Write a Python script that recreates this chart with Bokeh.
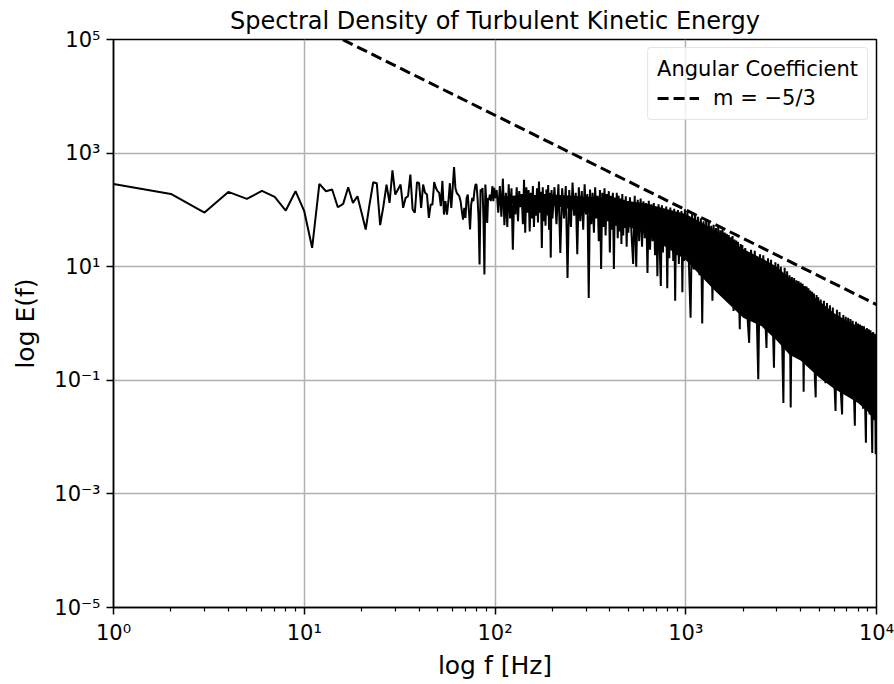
import numpy as np
from bokeh.plotting import figure
from bokeh.models import Range1d, FixedTicker, CustomJSTickFormatter, Legend, LegendItem
from bokeh.embed import file_html
from bokeh.resources import INLINE

# ---------------- data (log10 of E(f)) ----------------
freq_low = list(range(1, 101))
log_e_low = [2.457, 2.281, 1.954, 2.317, 2.194, 2.334, 2.229, 1.989, 2.329, 1.977,
             1.333, 2.457, 2.329, 2.358, 2.047, 2.106, 2.400, 2.123, 2.241, 1.947,
             1.655, 2.100, 2.487, 2.470, 1.731, 2.065, 2.446, 2.123, 2.698, 2.270,
             2.358, 2.446, 2.036, 2.212, 2.241, 2.622, 2.007, 1.950, 2.487, 2.470,
             2.036, 2.446, 2.300, 2.270, 1.860, 2.094, 2.094, 2.490, 2.387, 2.330,
             2.300, 2.065, 2.510, 1.918, 2.153, 1.918, 2.153, 2.470, 2.036, 2.387,
             2.756, 2.387, 2.300, 2.270, 2.240, 2.153, 1.977, 1.830, 2.036, 1.860,
             2.210, 2.270, 1.977, 1.655, 2.094, 2.210, 2.153, 2.330, 2.446, 2.446,
             2.210, 1.860, 1.040, 2.358, 2.330, 2.387, 1.860, 0.865, 2.446, 2.153,
             1.770, 2.210, 2.180, 2.270, 2.153, 2.270, 2.417, 2.153, 2.387, 2.210]

freq_a = list(range(102, 201, 2))
log_e_a = [2.35, 1.95, 2.42, 1.88, 2.55, 1.73, 2.30, 1.70, 2.45, 1.85,
           2.38, 1.30, 2.25, 1.92, 2.40, 1.80, 2.33, 2.05, 2.28, 1.75,
           2.53, 1.60, 2.40, 1.95, 2.35, 1.62, 2.30, 1.85, 2.42, 1.70,
           2.26, 1.90, 2.38, 1.78, 2.50, 1.95, 2.32, 1.33, 2.40, 1.80,
           2.28, 1.72, 2.36, 1.90, 2.44, 1.65, 2.30, 1.16, 2.35, 1.85]

freq_b = list(range(205, 501, 5))
log_e_b = [2.40, 1.75, 2.45, 1.24, 2.38, 1.85, 2.42, 0.80, 2.35, 1.70,
           2.48, 1.90, 2.30, 1.22, 2.40, 1.80, 2.33, 1.65, 2.45, 1.92,
           2.28, 0.45, 2.36, 1.75, 2.30, 1.60, 2.40, 1.85, 2.25, 1.45,
           2.35, 0.96, 2.30, 1.70, 2.38, 1.55, 2.28, 1.80, 2.33, 1.25,
           2.25, 1.65, 2.30, 0.96, 2.22, 1.72, 2.30, 1.50, 2.25, 1.62,
           2.20, 1.40, 2.28, 1.55, 2.18, 1.68, 2.24, 1.35, 2.15, 1.60]

freq_c = list(range(510, 1001, 10))
log_e_c = [2.22, 1.55, 1.05, 2.25, 1.00, 2.18, 1.45, 2.20, 1.35, 2.15,
           1.50, 2.12, 0.89, 2.16, 1.30, 2.10, 1.45, 2.12, 1.20, 2.05,
           0.83, 2.10, 1.35, 0.66, 2.08, 1.25, 2.02, 1.40, 2.06, 0.62,
           2.00, 1.15, 2.04, 1.30, 1.98, 1.10, 2.02, 0.40, 1.96, 1.20,
           2.00, 1.05, 1.95, 1.25, 1.98, 0.55, 1.92, 1.10, 2.01, 1.15]

freq_d = list(range(1020, 2001, 20))
log_e_d = [1.98, 1.00, 0.10, 1.95, 0.95, 1.92, 1.10, 1.88, 0.85, 1.85,
           0.00, 1.80, 0.90, 1.83, 0.75, 1.78, 0.95, 1.72, 0.40, 1.74,
           0.70, 1.68, 0.85, 1.70, 0.55, 1.64, 0.75, 1.66, 0.50, 1.60,
           0.80, 1.58, 0.45, 1.56, 0.65, 1.52, 0.40, 1.54, 0.22, 1.48,
           0.60, 1.46, 0.35, 1.44, 0.55, -0.10, 1.40, 0.30, 1.38, 0.45]

freq_e = list(range(2050, 5001, 50))
log_e_e = [1.33, 0.20, -0.34, 1.30, 0.10, 1.28, 0.30, -0.98, 1.22, 0.05,
           1.20, 0.25, -0.43, 1.15, 0.00, 1.12, 0.20, -0.78, 1.08, -0.20,
           1.05, 0.10, 1.00, -0.30, -1.40, 0.98, -0.15, 0.92, -0.45, 0.85,
           -1.48, 0.82, -0.35, 0.80, -0.50, 0.76, -0.20, 0.75, -0.60, 0.72,
           -0.40, 0.70, -1.20, 0.66, -0.55, 0.65, -0.70, 0.62, -0.45, 0.58,
           -0.80, 0.56, -0.60, 0.53, -0.95, -1.30, 0.50, -0.75, 0.46, -0.85]

freq_f = list(range(5100, 10001, 100))
log_e_f = [0.42, -0.90, 0.40, -1.05, 0.36, -0.80, 0.32, -1.10, 0.28, -0.95,
           -1.54, 0.24, -1.00, 0.20, -1.20, -1.60, 0.15, -1.05, 0.12, -1.25,
           0.10, -0.95, 0.08, -1.30, 0.05, -1.15, -1.80, 0.03, -1.20, 0.00,
           -1.40, -0.02, -1.10, -0.04, -1.50, -0.05, -1.30, -2.10, -0.08, -1.45,
           -0.10, -1.60, -0.12, -1.35, -2.28, -0.15, -1.70, -0.18, -2.30, -0.20]

# dense core of the noisy band (where the trace is drawn solid black)
core_freq = [110, 200, 350, 600, 1000, 1400, 2000, 2500, 3000, 3500, 4000,
             5000, 6000, 7000, 8000, 9000, 10000]
core_top = [2.24, 2.27, 2.22, 2.12, 1.93, 1.66, 1.31, 1.15, 1.00, 0.80, 0.67,
            0.40, 0.18, 0.05, -0.05, -0.12, -0.22]
core_bottom = [2.12, 2.08, 1.90, 1.60, 1.12, 0.60, 0.10, -0.05, -0.30, -0.55, -0.65,
               -0.95, -1.15, -1.28, -1.40, -1.55, -1.75]

# reference slope line  E = C f^(-5/3)
slope_freq = [1, 10000]
slope_coef = 1.0e7
slope_exp = -5.0 / 3.0

x_major = [1, 10, 100, 1000, 10000]
y_major = [1e-5, 1e-3, 1e-1, 1e1, 1e3, 1e5]

# ---------------- assemble ----------------
freq = np.array(freq_low + freq_a + freq_b + freq_c + freq_d + freq_e + freq_f, dtype=float)
energy = 10.0 ** np.array(log_e_low + log_e_a + log_e_b + log_e_c + log_e_d + log_e_e + log_e_f)
core_hi = 10.0 ** np.array(core_top)
core_lo = 10.0 ** np.array(core_bottom)
slope_energy = [slope_coef * f ** slope_exp for f in slope_freq]

FONT = "DejaVu Sans"

p = figure(width=894, height=684, x_axis_type="log", y_axis_type="log",
           x_range=Range1d(1, 1e4), y_range=Range1d(1e-5, 1e5),
           output_backend="svg", toolbar_location=None,
           title="Spectral Density of Turbulent Kinetic Energy",
           min_border_left=113, min_border_right=18, min_border_top=38, min_border_bottom=77)

p.background_fill_color = "white"
p.border_fill_color = "white"
p.outline_line_color = "black"
p.outline_line_width = 1.5
p.outline_line_alpha = 1.0

p.title.text_font = FONT
p.title.text_font_size = "24px"
p.title.text_font_style = "normal"
p.title.align = "center"
p.title.text_color = "black"
p.title.standoff = 9

minor = [m * d for d in [1, 10, 100, 1000] for m in range(2, 10)]
p.xaxis.ticker = FixedTicker(ticks=x_major, minor_ticks=minor)
p.yaxis.ticker = FixedTicker(ticks=y_major, minor_ticks=[])

fmt_code = """
const e = Math.round(Math.log10(tick));
const sup = {'-':'\u207b','0':'\u2070','1':'\u00b9','2':'\u00b2','3':'\u00b3','4':'\u2074',
             '5':'\u2075','6':'\u2076','7':'\u2077','8':'\u2078','9':'\u2079'};
return '10' + String(e).split('').map(c => sup[c]).join('');
"""
for ax in (p.xaxis[0], p.yaxis[0]):
    ax.formatter = CustomJSTickFormatter(code=fmt_code)
    ax.axis_line_width = 1.5
    ax.axis_line_color = "black"
    ax.major_tick_in = 0
    ax.major_tick_out = 7
    ax.minor_tick_in = 0
    ax.minor_tick_out = 4
    ax.major_tick_line_width = 1.5
    ax.minor_tick_line_width = 1.2
    ax.major_tick_line_color = "black"
    ax.minor_tick_line_color = "black"
    ax.major_label_text_font = FONT
    ax.major_label_text_font_size = "21px"
    ax.major_label_text_color = "black"
    ax.major_label_standoff = 6
    ax.axis_label_text_font = FONT
    ax.axis_label_text_font_size = "25px"
    ax.axis_label_text_font_style = "normal"
    ax.axis_label_text_color = "black"

p.xaxis.axis_label = "log f [Hz]"
p.yaxis.axis_label = "log E(f)"
p.xaxis.axis_label_standoff = 3
p.yaxis.axis_label_standoff = 11

for g in (p.xgrid[0], p.ygrid[0]):
    g.grid_line_color = "#b0b0b0"
    g.grid_line_width = 1.5

p.varea(x=core_freq, y1=core_lo, y2=core_hi, fill_color="black", fill_alpha=1.0)
p.line(freq, energy, line_color="black", line_width=2)
dash_r = p.line(slope_freq, slope_energy, line_color="black", line_width=3, line_dash="11 5")

legend = Legend(items=[LegendItem(label="m = \u22125/3", renderers=[dash_r])],
                title="Angular Coefficient", location="top_right")
legend.title_text_font = FONT
legend.title_text_font_size = "21px"
legend.title_text_font_style = "normal"
legend.title_text_color = "black"
legend.label_text_font = FONT
legend.label_text_font_size = "21px"
legend.label_text_color = "black"
legend.glyph_width = 42
legend.glyph_height = 22
legend.label_standoff = 14
legend.padding = 9
legend.margin = 8
legend.spacing = 4
legend.border_line_color = "#cccccc"
legend.border_line_width = 1.5
legend.background_fill_alpha = 0.8
if "border_radius" in Legend.properties():
    legend.border_radius = 4
p.add_layout(legend)

with open("out.html", "w", encoding="utf-8") as fh:
    fh.write(file_html(p, INLINE))
